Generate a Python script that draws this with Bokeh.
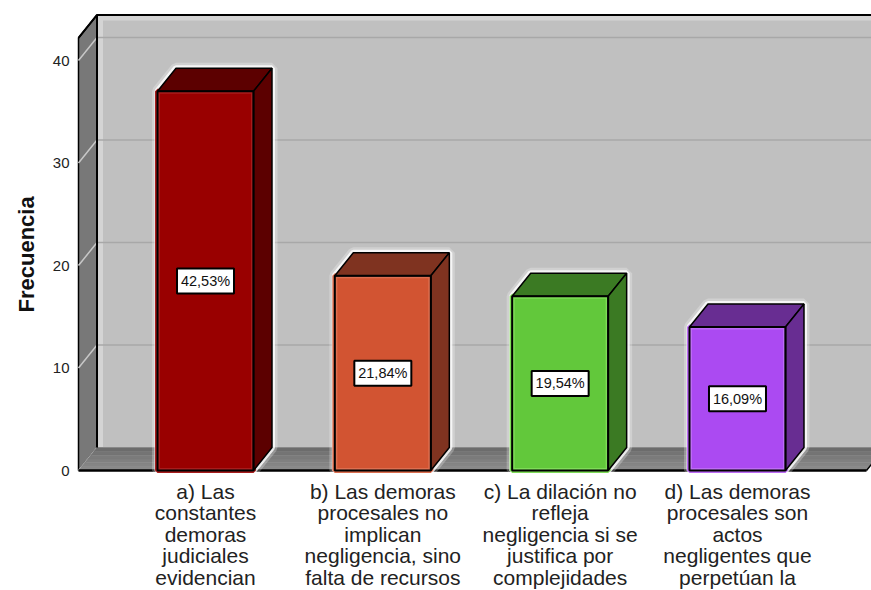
from bokeh.plotting import figure
from bokeh.models import Range1d, FixedTicker, ColumnDataSource, Title
from bokeh.core.properties import value
from bokeh.embed import file_html
from bokeh.resources import INLINE

categories = [
    "a) Las\nconstantes\ndemoras\njudiciales\nevidencian",
    "b) Las demoras\nprocesales no\nimplican\nnegligencia, sino\nfalta de recursos",
    "c) La dilación no\nrefleja\nnegligencia si se\njustifica por\ncomplejidades",
    "d) Las demoras\nprocesales son\nactos\nnegligentes que\nperpetúan la",
]
frecuencia = [37, 19, 17, 14]
porcentaje = ["42,53%", "21,84%", "19,54%", "16,09%"]
y_ticks = [0, 10, 20, 30, 40]
front_colors = ["#990000", "#d25432", "#62c83b", "#ab4af2"]
light_colors = ["#a81c1c", "#dd6f50", "#7fdc58", "#bd6cf6"]
side_colors = ["#5c0000", "#7f3320", "#3b7a23", "#682d92"]

PXX, PXY = 177.33, 10.25
DX, DY = 18.5 / PXX, 23 / PXY
BW = 96 / PXX
X0, X1 = (78 - 205) / PXX, (866 - 205) / PXX
TOP = 42.2

p = figure(width=871, height=590, output_backend="svg", toolbar_location=None,
           x_range=Range1d((76 - 205) / PXX, (871 - 205) / PXX),
           y_range=Range1d((470 - 590) / PXY, 470 / PXY),
           min_border_left=76, min_border_right=0, min_border_top=0, min_border_bottom=0,
           outline_line_color=None, background_fill_color="white")
p.grid.visible = False

# walls and floor
p.patch([X0 + DX, X1 + DX + 1, X1 + DX + 1, X0 + DX], [DY, DY, TOP + DY, TOP + DY],
        fill_color="#c0c0c0", line_color=None)
p.line([X0 + DX + 0.02, X0 + DX + 0.02], [DY, TOP + DY], line_color="#d4d4d4", line_width=5)
p.line([X0 + DX, X1 + DX + 1], [TOP + DY - 0.3] * 2, line_color="#d4d4d4", line_width=5)
for t in y_ticks[1:]:
    p.line([X0 + DX, X1 + DX + 1], [t + DY, t + DY], line_color="#a8a8a8", line_width=1.5)
p.patch([X0, X0 + DX, X0 + DX, X0], [0, DY, TOP + DY, TOP],
        fill_color="#787878", line_color="black", line_width=1.5)
for t in y_ticks:
    p.line([X0, X0 + DX], [t, t + DY], line_color="#c8c8c8", line_width=1.5)
for i, c in enumerate(["#8a8a8a", "#858585", "#808080", "#7b7b7b", "#747474", "#6c6c6c"]):
    a, b = i / 6 * DY, (i + 1) / 6 * DY
    ka, kb = i / 6 * DX, (i + 1) / 6 * DX
    p.patch([X0 + ka, X1 + ka, X1 + kb, X0 + kb], [a, a, b, b], fill_color=c, line_color=c, line_width=0.5)
p.line([X0 + DX, X0 + DX], [DY, TOP + DY], line_color="black", line_width=2)
p.line([X0, X0 + DX, X1 + DX + 1], [TOP, TOP + DY, TOP + DY], line_color="black", line_width=2)
p.line([X1, X1 + DX], [0, DY], line_color="black", line_width=1.5)
p.line([X0, X1], [0, 0], line_color="black", line_width=2.5)

# bars
for i, v in enumerate(frecuencia):
    l, r = i - BW / 2, i + BW / 2
    sx = [l, r, r + DX, r + DX, l + DX, l]
    sy = [0, 0, DY, v + DY, v + DY, v]
    p.patch(sx, sy, fill_color="white", line_color="white", line_width=11, line_alpha=0.25)
    p.patch(sx, sy, fill_color="white", line_color="white", line_width=6, line_alpha=0.8)
    p.patch([l, r, r, l], [0, 0, v, v], fill_color=front_colors[i],
            line_color=light_colors[i], line_width=5)
    p.patch([l, r, r + DX, l + DX], [v, v, v + DY, v + DY], fill_color=side_colors[i],
            line_color="black", line_width=1.5)
    p.patch([r, r + DX, r + DX, r], [0, DY, v + DY, v], fill_color=side_colors[i],
            line_color="black", line_width=1.5)
    p.patch([l, r, r, l], [0, 0, v, v], fill_color=None, line_color="black", line_width=2)

src = ColumnDataSource(dict(x=list(range(4)), y=[v / 2 for v in frecuencia], t=porcentaje))
p.rect("x", "y", width=57, height=25, width_units="screen", height_units="screen", source=src,
       fill_color="white", line_color="black", line_width=2)
p.text("x", "y", text="t", source=src, text_align="center", text_baseline="middle",
       text_font=value("Liberation Sans"), text_font_size="14.5px", text_color="#111111")

# y axis
ax = p.yaxis[0]
ax.ticker = FixedTicker(ticks=y_ticks)
ax.axis_line_color = None
ax.major_tick_line_color = None
ax.minor_tick_line_color = None
ax.major_tick_out = 0
ax.minor_tick_out = 0
ax.major_label_standoff = 7
ax.major_label_text_font = "Liberation Sans"
ax.major_label_text_font_size = "15px"
ax.major_label_text_color = "#222222"

p.add_layout(Title(text="Frecuencia", align="left", offset=278, standoff=18, vertical_align="top",
                   text_font="Liberation Sans", text_font_style="bold", text_font_size="22px",
                   text_color="#111111"), "left")

# category labels, one row per text line
p.xaxis.visible = False
rows = dict(x=[], y=[], t=[], o=[])
for i, c in enumerate(categories):
    for n, line in enumerate(c.split("\n")):
        rows["x"].append(i)
        rows["y"].append(0)
        rows["t"].append(line)
        rows["o"].append(20.5 + 21.6 * n)
p.text("x", "y", text="t", y_offset="o", source=ColumnDataSource(rows),
       text_align="center", text_baseline="middle", text_font=value("Liberation Sans"),
       text_font_size="21px", text_color="#222222")

open("out.html", "w").write(file_html(p, INLINE))
